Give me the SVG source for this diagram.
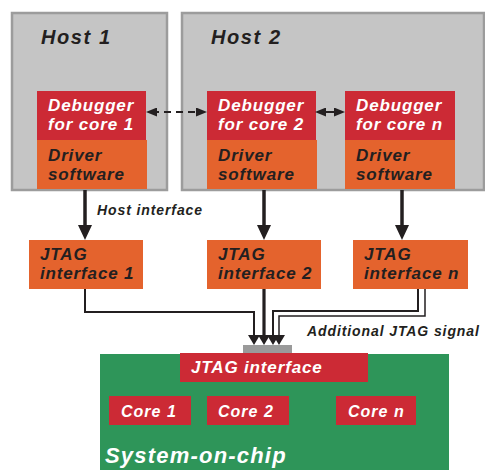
<svg xmlns="http://www.w3.org/2000/svg" width="485" height="470" viewBox="0 0 485 470">
  <style>
    .host { fill: #c5c5c5; stroke: #9c9c9c; stroke-width: 2.5; }
    .red { fill: #cc2a35; }
    .orange { fill: #e4632d; }
    .soc { fill: #2e9559; }
    .bar { fill: #9a9a9a; }
    text { font-family: "Liberation Sans", Arial, sans-serif; font-weight: bold; font-style: italic; }
    .lbl { font-size: 17px; letter-spacing: 0.85px; }
    .w { fill: #ffffff; }
    .d { fill: #231f20; }
    .title { font-size: 20px; letter-spacing: 1.6px; fill: #231f20; }
    .note { font-size: 14px; letter-spacing: 0.9px; fill: #231f20; }
    .core { font-size: 16px; letter-spacing: 1px; fill: #ffffff; }
    .chip { font-size: 22px; letter-spacing: 1.2px; fill: #ffffff; }
    .wire { fill: none; stroke: #231f20; stroke-linejoin: miter; }
  </style>
  <defs>
    <marker id="bigHead" markerUnits="userSpaceOnUse" markerWidth="15" markerHeight="14" refX="7" refY="7" orient="auto">
      <path d="M0,0 L15,7 L0,14 z" fill="#231f20"/>
    </marker>
    <marker id="smallHead" markerUnits="userSpaceOnUse" markerWidth="11" markerHeight="9" refX="5" refY="4.5" orient="auto-start-reverse">
      <path d="M0,0 L11,4.5 L0,9 z" fill="#231f20"/>
    </marker>
    <marker id="pinHead" markerUnits="userSpaceOnUse" markerWidth="10" markerHeight="12" refX="4" refY="6" orient="auto">
      <path d="M0,0 L10,6 L0,12 z" fill="#231f20"/>
    </marker>
  </defs>

  <!-- Host 1 -->
  <g id="host1">
    <rect class="host" x="12" y="13" width="155" height="177"/>
    <text class="title" x="41" y="44">Host 1</text>
  </g>

  <!-- Host 2 -->
  <g id="host2">
    <rect class="host" x="182" y="13" width="302" height="177"/>
    <text class="title" x="211" y="44">Host 2</text>
  </g>

  <g id="debugger1">
    <rect class="red" x="37" y="91" width="109" height="49"/>
    <text class="lbl w" x="48" y="111">Debugger</text>
    <text class="lbl w" x="48" y="130">for core 1</text>
  </g>
  <g id="driver1">
    <rect class="orange" x="37" y="140" width="110" height="49"/>
    <text class="lbl d" x="48" y="161">Driver</text>
    <text class="lbl d" x="48" y="180">software</text>
  </g>

  <g id="debugger2">
    <rect class="red" x="207" y="91" width="109" height="49"/>
    <text class="lbl w" x="218" y="111">Debugger</text>
    <text class="lbl w" x="218" y="130">for core 2</text>
  </g>
  <g id="driver2">
    <rect class="orange" x="207" y="140" width="110" height="49"/>
    <text class="lbl d" x="218" y="161">Driver</text>
    <text class="lbl d" x="218" y="180">software</text>
  </g>

  <g id="debuggerN">
    <rect class="red" x="345" y="91" width="110" height="49"/>
    <text class="lbl w" x="356" y="111">Debugger</text>
    <text class="lbl w" x="356" y="130">for core n</text>
  </g>
  <g id="driverN">
    <rect class="orange" x="345" y="140" width="110" height="49"/>
    <text class="lbl d" x="356" y="161">Driver</text>
    <text class="lbl d" x="356" y="180">software</text>
  </g>

  <!-- JTAG adapters -->
  <g id="jtag1">
    <rect class="orange" x="29" y="240" width="114" height="49"/>
    <text class="lbl d" x="40" y="260">JTAG</text>
    <text class="lbl d" x="40" y="279">interface 1</text>
  </g>
  <g id="jtag2">
    <rect class="orange" x="207" y="240" width="114" height="49"/>
    <text class="lbl d" x="218" y="260">JTAG</text>
    <text class="lbl d" x="218" y="279">interface 2</text>
  </g>
  <g id="jtagN">
    <rect class="orange" x="353" y="240" width="115" height="49"/>
    <text class="lbl d" x="364" y="260">JTAG</text>
    <text class="lbl d" x="364" y="279">interface n</text>
  </g>

  <!-- Target chip -->
  <g id="soc">
    <rect class="soc" x="100" y="354" width="349" height="116"/>
    <text class="chip" x="105" y="463">System-on-chip</text>
  </g>
  <g id="jtagPort">
    <rect class="bar" x="243" y="345" width="49" height="8"/>
  </g>
  <g id="socJtag">
    <rect class="red" x="180" y="353" width="188" height="29"/>
    <text class="lbl w" x="191" y="373">JTAG interface</text>
  </g>
  <g id="core1">
    <rect class="red" x="109" y="396" width="82" height="29"/>
    <text class="core" x="121" y="417">Core 1</text>
  </g>
  <g id="core2">
    <rect class="red" x="207" y="396" width="82" height="29"/>
    <text class="core" x="218" y="417">Core 2</text>
  </g>
  <g id="coreN">
    <rect class="red" x="336" y="396" width="80" height="29"/>
    <text class="core" x="348" y="417">Core n</text>
  </g>

  <!-- Connectors -->
  <g id="connectors">
    <line class="wire" x1="152" y1="112" x2="201" y2="112" stroke-width="2" stroke-dasharray="7 5" marker-start="url(#smallHead)" marker-end="url(#smallHead)"/>
    <line class="wire" x1="321" y1="112" x2="339" y2="112" stroke-width="2" marker-start="url(#smallHead)" marker-end="url(#smallHead)"/>

    <line class="wire" x1="85" y1="190" x2="85" y2="232" stroke-width="3.5" marker-end="url(#bigHead)"/>
    <line class="wire" x1="264" y1="190" x2="264" y2="232" stroke-width="3.5" marker-end="url(#bigHead)"/>
    <line class="wire" x1="402" y1="190" x2="402" y2="232" stroke-width="3.5" marker-end="url(#bigHead)"/>
    <text class="note" x="97" y="215">Host interface</text>

    <path class="wire" d="M85,289 V312 H254 V339" stroke-width="2" marker-end="url(#pinHead)"/>
    <path class="wire" d="M264,289 V339" stroke-width="3.2" marker-end="url(#pinHead)"/>
    <path class="wire" d="M418,289 V311 H273 V339" stroke-width="2" marker-end="url(#pinHead)"/>
    <path class="wire" d="M425,289 V316 H279 V339" stroke-width="1.5" marker-end="url(#pinHead)"/>
    <text class="note" x="307" y="336">Additional JTAG signal</text>
  </g>
</svg>
